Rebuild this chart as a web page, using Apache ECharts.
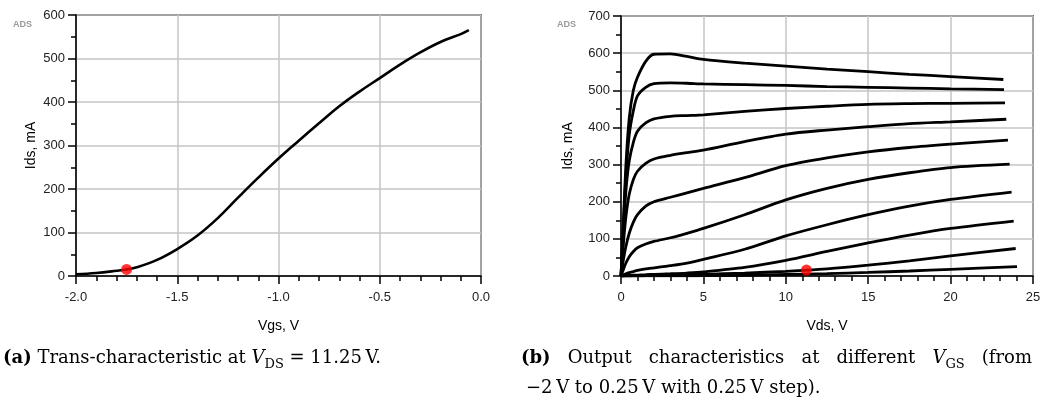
<!DOCTYPE html>
<html>
<head>
<meta charset="utf-8">
<script src="https://cdn.jsdelivr.net/npm/echarts@6/dist/echarts.min.js"></script>
<style>
html,body{margin:0;padding:0;background:#fff;}
#c{width:1051px;height:407px;}
</style>
</head>
<body>
<div id="c"></div>
<script>
// ---- Chart (a): trans-characteristic at Vds = 11.25 V ----
const VGS = [-2.0,-1.9,-1.8,-1.75,-1.7,-1.6,-1.5,-1.4,-1.3,-1.2,-1.1,-1.0,-0.9,-0.8,-0.7,-0.6,-0.5,-0.4,-0.3,-0.2,-0.1,-0.06];
const IDS_A = [4,7,12,15,20,37,62,93,133,180,226,270,311,351,390,424,455,486,514,538,556,565];
const POINT_A = [-1.75, 15];

// ---- Chart (b): output characteristics ----
const VDS = [0,0.15,0.3,0.5,0.75,1,1.5,2,3,4,5,7.5,10,12.5,15,17.5,20];
const VGS_STEPS = ['-2','-1.75','-1.5','-1.25','-1','-0.75','-0.5','-0.25','0','0.25'];
const VDS_END = [24.03,23.95,23.83,23.7,23.58,23.48,23.38,23.3,23.24,23.2];
const IDS_M200 = [0,0,0,0,0,0,0.1,0.2,0.4,0.6,0.9,2,4,6.5,9.5,13.5,18,25];
const IDS_M175 = [0,0,0.3,0.5,0.8,1,1.5,2,2.8,3.6,4.5,8,12.5,19,29,41,54,74];
const IDS_M150 = [0,0.5,1,1.5,2,2.5,3.5,4.5,6,8,11,23,42,66,89,110,128,148];
const IDS_M125 = [0,3,6,9,12,15,19,22,28,35,45,72,108,138,165,188,206,226];
const IDS_M100 = [0,18,35,52,66,76,86,93,103,115,128,165,205,236,260,278,292,301];
const IDS_M075 = [0,45,80,115,145,165,188,200,212,224,236,265,297,318,334,346,355,366];
const IDS_M050 = [0,90,160,220,260,282,303,315,325,332,339,362,382,393,402,410,415,422];
const IDS_M025 = [0,120,230,310,360,390,412,423,430,432,434,443,451,457,462,464,465,466];
const IDS_P000 = [0,140,270,380,445,485,508,518,520,519,517,515,513,510,508,506,504,502];
const IDS_P025 = [0,150,300,425,500,535,578,597,598,591,583,573,565,557,550,543,537,529];
const IDS_B = [IDS_M200,IDS_M175,IDS_M150,IDS_M125,IDS_M100,IDS_M075,IDS_M050,IDS_M025,IDS_P000,IDS_P025];
const POINT_B = [11.25, 16];

const X_TICKS_A = ['-2.0','-1.5','-1.0','-0.5','0.0'];

const CAPTION_A = '{b|(a)}{n| Trans-characteristic at }{i|V}{s|DS}{n| = 11.25\u2009V.}';
const CAPTION_B1_WORDS = ['{b|(b)}','{n|Output}','{n|characteristics}','{n|at}','{n|different}','{i|V}{s|GS}','{n|(from}'];
const CAPTION_B2 = '{n|\u22122\u2009V to 0.25\u2009V with 0.25\u2009V step).}';

const chart = echarts.init(document.getElementById('c'), null, {renderer:'canvas'});
const FONT = "'Liberation Sans', Arial, sans-serif";
const SERIF = "'DejaVu Serif', serif";

function axisCommon(){
  return {
    axisLine:{show:true,onZero:false,lineStyle:{color:'#000',width:1.5}},
    axisTick:{show:true,inside:false,length:8,lineStyle:{color:'#000',width:1.5}},
    splitLine:{show:true,lineStyle:{color:'#c4c4c4',width:1.5}},
    axisLabel:{color:'#222',fontFamily:FONT,fontSize:13},
    nameTextStyle:{color:'#000',fontFamily:FONT,fontSize:14}
  };
}
function minor(n){return {show:true,splitNumber:n,length:5,lineStyle:{color:'#000',width:1.5}};}

const xa = Object.assign(axisCommon(), {
  gridIndex:0,type:'value',min:-2,max:0,interval:0.5,minorTick:minor(5),
  name:'Vgs, V',nameLocation:'middle',nameGap:43
});
xa.axisLabel = Object.assign({}, xa.axisLabel, {margin:15, formatter:(v)=>{const i=Math.round((v+2)/0.5);return X_TICKS_A[i]!==undefined?X_TICKS_A[i]:v;}});
const ya = Object.assign(axisCommon(), {
  gridIndex:0,type:'value',min:0,max:600,interval:100,minorTick:minor(2),
  name:'Ids, mA',nameLocation:'middle',nameGap:38
});
ya.axisLabel = Object.assign({}, ya.axisLabel, {margin:11});
const xb = Object.assign(axisCommon(), {
  gridIndex:1,type:'value',min:0,max:25,interval:5,minorTick:minor(5),
  name:'Vds, V',nameLocation:'middle',nameGap:43
});
xb.axisLabel = Object.assign({}, xb.axisLabel, {margin:15});
const yb = Object.assign(axisCommon(), {
  gridIndex:1,type:'value',min:0,max:700,interval:100,minorTick:minor(2),
  name:'Ids, mA',nameLocation:'middle',nameGap:46
});
yb.axisLabel = Object.assign({}, yb.axisLabel, {margin:11});

const series = [];
series.push({
  type:'line',xAxisIndex:0,yAxisIndex:0,showSymbol:false,smooth:0.4,
  lineStyle:{color:'#000',width:2.6},
  data: VGS.map((v,i)=>[v,IDS_A[i]]),z:3
});
series.push({
  type:'scatter',xAxisIndex:0,yAxisIndex:0,symbolSize:11,itemStyle:{color:'#ff0000'},
  data:[POINT_A],z:5
});
IDS_B.forEach((arr,k)=>{
  const xs = VDS.concat([VDS_END[k]]);
  series.push({
    type:'line',name:'Vgs='+VGS_STEPS[k],xAxisIndex:1,yAxisIndex:1,showSymbol:false,smooth:0.3,
    lineStyle:{color:'#000',width:2.8},
    data: xs.map((x,i)=>[x,arr[i]]),z:3
  });
});
series.push({
  type:'scatter',xAxisIndex:1,yAxisIndex:1,symbolSize:11,itemStyle:{color:'#ff0000'},
  data:[POINT_B],z:5
});

function makeRich(fs){
  return {
    n:{fontFamily:SERIF,fontSize:fs,color:'#000',lineHeight:22,padding:[0,0,4,0],verticalAlign:'bottom'},
    b:{fontFamily:SERIF,fontSize:fs,fontWeight:'bold',color:'#000',lineHeight:22,padding:[0,0,4,0],verticalAlign:'bottom'},
    i:{fontFamily:SERIF,fontSize:fs,fontStyle:'italic',color:'#000',lineHeight:22,padding:[0,0,4,0],verticalAlign:'bottom'},
    s:{fontFamily:SERIF,fontSize:13,color:'#000',lineHeight:14,verticalAlign:'bottom'}
  };
}
const capRich = makeRich(18);

// justify first line of caption (b) between x0 and x1 (LaTeX-justified line)
const mctx = document.createElement('canvas').getContext('2d');
function tokWidth(tok){
  const m = /^\{(\w)\|(.*)\}$/.exec(tok);
  const st = capRich[m[1]];
  mctx.font = (st.fontStyle||'normal')+' '+(st.fontWeight||'normal')+' '+st.fontSize+'px '+SERIF;
  return mctx.measureText(m[2]).width;
}
function wordWidth(w){
  return w.match(/\{\w\|[^}]*\}/g).reduce((s,t)=>s+tokWidth(t),0);
}
const B1_X0 = 521, B1_X1 = 1032;
const widths = CAPTION_B1_WORDS.map(wordWidth);
const totalW = widths.reduce((a,b)=>a+b,0);
const gap = (B1_X1 - B1_X0 - totalW)/(CAPTION_B1_WORDS.length-1);
const b1Graphics = [];
let cx = B1_X0;
CAPTION_B1_WORDS.forEach((w,i)=>{
  b1Graphics.push({type:'text',x:cx,y:349,style:{text:w,rich:capRich}});
  cx += widths[i] + gap;
});

chart.setOption({
  animation:false,
  backgroundColor:'#fff',
  grid:[
    {left:76,right:570,top:15,bottom:131,show:true,borderColor:'#000',borderWidth:1.5,backgroundColor:'transparent'},
    {left:621,right:18,top:16,bottom:131,show:true,borderColor:'#000',borderWidth:1.5,backgroundColor:'transparent'}
  ],
  xAxis:[xa,xb],
  yAxis:[ya,yb],
  series:series,
  graphic:[
    {type:'text',left:13,top:20,style:{text:'ADS',fill:'#9a9a9a',font:"bold 9px 'Liberation Sans', Arial, sans-serif"}},
    {type:'text',left:557,top:20,style:{text:'ADS',fill:'#9a9a9a',font:"bold 9px 'Liberation Sans', Arial, sans-serif"}},
    {type:'text',left:3,top:349,style:{text:CAPTION_A,rich:capRich}},
    {type:'text',left:526,top:379,style:{text:CAPTION_B2,rich:capRich}}
  ].concat(b1Graphics)
});
</script>
</body>
</html>
